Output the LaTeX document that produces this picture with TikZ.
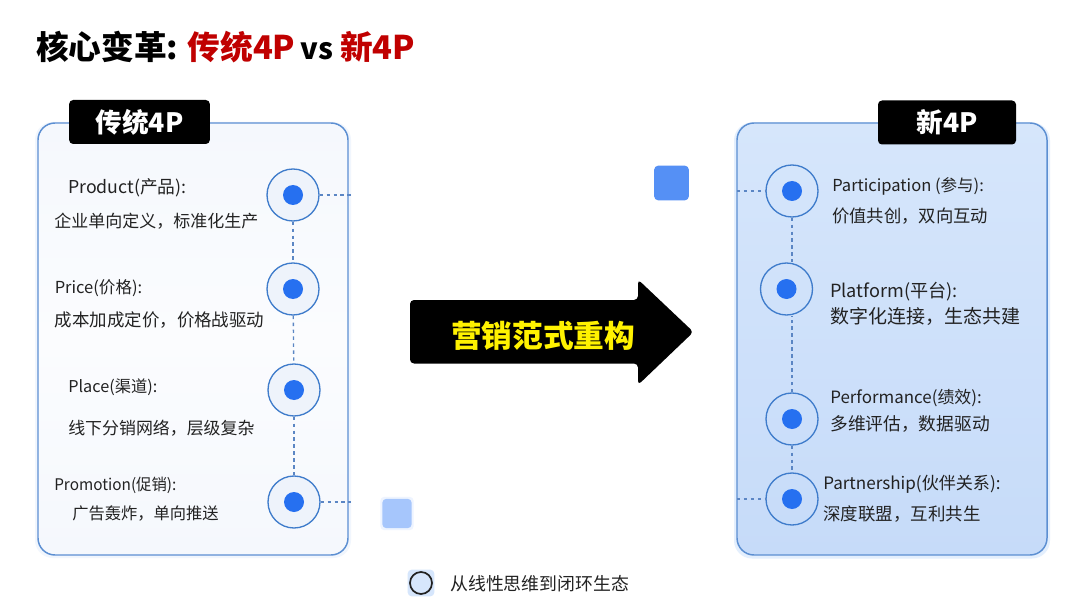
\documentclass[tikz,border=0pt]{standalone}
\usepackage{graphicx}
\usepackage{fontspec}
\setmainfont{Noto Sans CJK SC}
\def\qc{\char"FF0C\relax}
\definecolor{ink}{HTML}{222222}
\definecolor{cardedge}{HTML}{5C8FD2}
\definecolor{ringedge}{HTML}{3F7CCB}
\definecolor{ringfill}{HTML}{EEF3FB}
\definecolor{dotblue}{HTML}{2670F0}
\definecolor{dashblue}{HTML}{5B86C4}
\definecolor{titlered}{HTML}{C00000}
\definecolor{arrowtext}{HTML}{FFF200}
\definecolor{righttop}{HTML}{D6E6FB}
\definecolor{rightbot}{HTML}{C6DBF9}
\definecolor{righthaloc}{HTML}{E4EFFD}
\definecolor{lefthaloc}{HTML}{F1F6FD}
\definecolor{lefttop}{HTML}{F5F8FD}
\definecolor{leftmid}{HTML}{FBFCFE}
\definecolor{tilea}{HTML}{5590F5}
\definecolor{tileb}{HTML}{A6C6FC}
\definecolor{tilebh}{HTML}{EEF4FF}
\definecolor{legendc}{HTML}{D6E6FC}
\tikzset{
  lab/.style={anchor=west,inner sep=0pt,text=ink,font=\fontsize{#1}{#1}\selectfont},
  card/.style={rectangle,rounded corners=12.75pt,draw=cardedge,line width=1.1pt,minimum width=232.5pt,minimum height=324pt,inner sep=0pt},
  halo/.style={rectangle,rounded corners=13.5pt,minimum width=237pt,minimum height=327pt,inner sep=0pt},
  badge/.style={rectangle,rounded corners=3pt,fill=black,text=white,inner sep=0pt,minimum height=33pt,font=\fontsize{20pt}{20pt}\selectfont\bfseries},
  ring/.style={circle,draw=ringedge,line width=1pt,fill=ringfill,minimum size=39pt,inner sep=0pt},
  ringb/.style={circle,draw=ringedge,line width=1pt,minimum size=39pt,inner sep=0pt},
  dot/.style={circle,fill=dotblue,minimum size=15pt,inner sep=0pt},
  link/.style={draw=dashblue,line width=1pt,dash pattern=on 2.6pt off 2.6pt},
  tile/.style={rectangle,rounded corners=3pt,inner sep=0pt}
}
\begin{document}
\begin{tikzpicture}[x=0.75pt,y=-0.75pt]
\path[use as bounding box,fill=white] (0,0) rectangle (1080,602);
% title
\node[anchor=west,inner sep=0pt,text=black,font=\fontsize{24.5pt}{24.5pt}\selectfont\bfseries] (title) at (36,47)
  {核心变革:\hspace{7pt}\textcolor{titlered}{传统4P}\hspace{4pt}{\fontsize{22pt}{22pt}\selectfont vs}\hspace{5pt}\textcolor{titlered}{新4P}};
% cards
\node[halo,fill=lefthaloc] (lefthalo) at (193,340) {};
\node[card,top color=lefttop,bottom color=lefttop,middle color=leftmid] (leftcard) at (193,339) {};
\node[halo,fill=righthaloc] (righthalo) at (892,340.5) {};
\node[card,top color=righttop,bottom color=rightbot] (rightcard) at (892,339) {};
\node[badge,minimum width=105.5pt] (leftbadge) at (139.5,122) {\raisebox{-2.5pt}{传统4P}};
\node[badge,minimum width=103.5pt] (rightbadge) at (947,122.5) {\raisebox{-2.5pt}{新4P}};
% free ends
\coordinate (la) at (351,195);
\coordinate (lb) at (351,502);
\coordinate (ra) at (737,191);
\coordinate (rb) at (737,499);
% left rings
\node[ring] (l1) at (293,195) {}; \node[dot] (l1d) at (l1) {};
\node[ring] (l2) at (293,289) {}; \node[dot] (l2d) at (l2) {};
\node[ring] (l3) at (294,390) {}; \node[dot] (l3d) at (l3) {};
\node[ring] (l4) at (294,502) {}; \node[dot] (l4d) at (l4) {};
\draw[link] (l1) -- (l2);
\draw[link] (l2) -- (l3);
\draw[link] (l3) -- (l4);
\draw[link] (l1) -- (la);
\draw[link] (l4) -- (lb);
% right rings
\node[ringb] (r1) at (792,191) {}; \node[dot] (r1d) at (r1) {};
\node[ringb] (r2) at (786.5,289) {}; \node[dot] (r2d) at (r2) {};
\node[ringb] (r3) at (792,419) {}; \node[dot] (r3d) at (r3) {};
\node[ringb] (r4) at (792,499) {}; \node[dot] (r4d) at (r4) {};
\draw[link] (r1.south) -- (r1.south |- r2.north);
\draw[link] (r3.north -| r1.south) -- (r2.south -| r3.north);
\draw[link] (r3.south) -- (r4.north);
\draw[link] (ra) -- (r1);
\draw[link] (rb) -- (r4);
% left text
\node[lab=13.3pt] (t1) at (68,187.5) {Product(产品):};
\node[lab=12.75pt] (t2) at (54,221.5) {企业单向定义\qc 标准化生产};
\node[lab=12.4pt] (t3) at (54.5,288) {Price(价格):};
\node[lab=13.1pt] (t4) at (54.5,320.5) {成本加成定价\qc 价格战驱动};
\node[lab=12.2pt] (t5) at (68,387) {Place(渠道):};
\node[lab=12.7pt] (t6) at (68,428) {线下分销网络\qc 层级复杂};
\node[lab=12pt] (t7) at (54,485) {\scalebox{0.96}[1]{Promotion(促销):}};
\node[lab=12.2pt] (t8) at (72,513) {广告轰炸\qc 单向推送};
% right text
\node[lab=12.4pt] (u1) at (832,186) {Participation (参与):};
\node[lab=13pt] (u2) at (832,216) {价值共创\qc 双向互动};
\node[lab=13.6pt] (u3) at (830,292) {Platform(平台):};
\node[lab=14.25pt] (u4) at (830,316) {数字化连接\qc 生态共建};
\node[lab=12.7pt] (u5) at (830,398) {Performance(绩效):};
\node[lab=13.3pt] (u6) at (830,424) {多维评估\qc 数据驱动};
\node[lab=12.8pt] (u7) at (823,484) {Partnership(伙伴关系):};
\node[lab=13.1pt] (u8) at (823,514) {深度联盟\qc 互利共生};
% arrow
\fill[black,rounded corners=3pt] (410,300) -- (638,300) -- (638,279.5) -- (693.5,332) -- (638,385) -- (638,363.5) -- (410,363.5) -- cycle;
\node[inner sep=0pt,text=arrowtext,font=\fontsize{23pt}{23pt}\selectfont\bfseries] (arrowlabel) at (543,335.5) {营销范式重构};
% tiles
\node[tile,fill=tilebh,minimum size=25pt] (tile2halo) at (397,513.5) {};
\node[tile,fill=tileb,minimum size=22pt] (tile2) at (397,513.5) {};
\node[tile,fill=tilea,minimum size=26pt] (tile1) at (671.5,183) {};
% legend
\node[tile,fill=legendc,minimum size=20pt] (legendback) at (421,583) {};
\node[circle,draw=ink,line width=1.3pt,fill=legendc,minimum size=16.5pt,inner sep=0pt] (legendring) at (421,583) {};
\node[lab=13.4pt] (legendtext) at (450,584) {从线性思维到闭环生态};
\end{tikzpicture}
\end{document}
